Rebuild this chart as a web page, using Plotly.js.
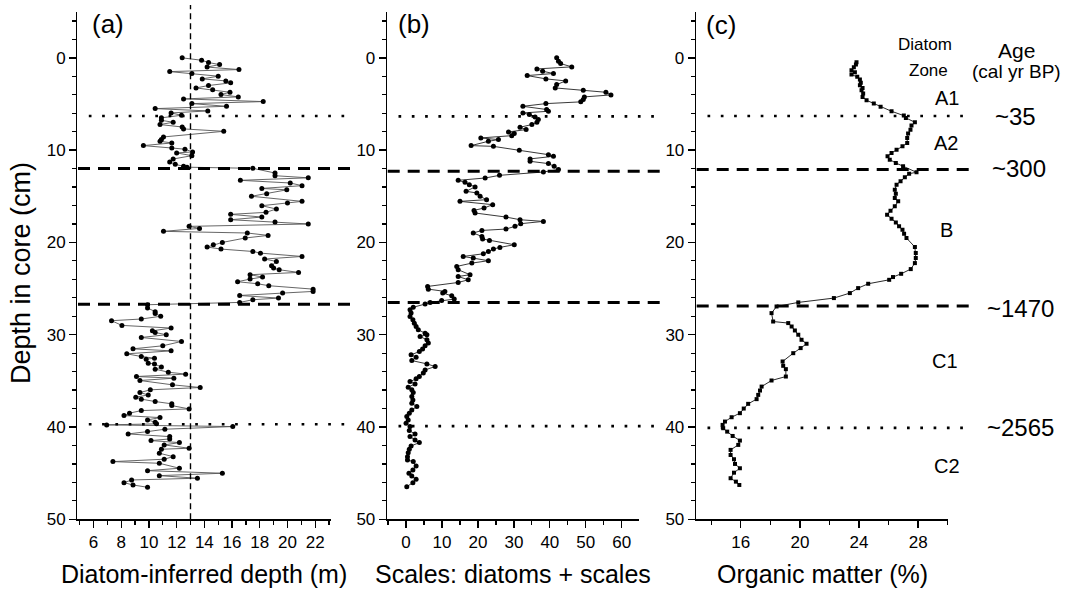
<!DOCTYPE html>
<html>
<head>
<meta charset="utf-8">
<script src="https://cdn.plot.ly/plotly-3.0.1.min.js"></script>
<style>html,body{margin:0;padding:0;background:#fff}#chart{width:1069px;height:590px}</style>
</head>
<body>
<div id="chart"></div>
<script>
// ---------------- DATA ----------------
// Panel (a): diatom-inferred depth (m) vs depth in core (cm)
const depthA = [0.0,0.26,0.51,0.73,1.0,1.27,1.49,1.70,1.99,2.28,2.50,2.71,3.0,3.26,3.47,3.73,3.98,4.23,4.45,4.74,4.96,5.25,5.5,5.75,5.97,6.22,6.5,6.77,6.98,7.23,7.49,7.70,7.96,8.57,8.86,9.04,9.22,9.51,9.77,9.9,10.2,10.3,10.6,10.96,11.28,11.54,11.75,11.85,
  11.97,12.48,12.77,13.0,13.27,13.56,13.85,14.15,14.3,14.72,15.0,15.55,15.73,16.02,16.38,16.74,16.96,17.25,17.54,17.79,18.0,18.26,18.48,18.8,18.98,19.24,19.52,20.0,20.25,20.5,20.72,20.98,21.16,21.52,21.8,22.06,22.53,22.78,22.96,23.25,23.5,23.75,23.97,24.26,24.48,24.69,25.06,25.31,25.49,25.75,26.03,26.21,26.5,
  26.75,27.1,27.5,27.7,28.0,28.3,28.48,28.99,29.28,29.58,29.76,30.0,30.3,30.73,31.2,31.53,31.75,32.07,32.36,32.54,32.65,33.08,33.16,33.51,33.73,34.06,34.27,34.53,34.71,34.96,35.43,35.72,35.97,36.27,36.52,36.77,36.98,37.24,37.49,37.68,38.04,38.22,38.5,38.76,38.98,39.23,39.48,39.66,39.77,39.95,40.24,40.5,40.75,41.04,41.29,41.47,41.69,41.94,42.3,42.41,42.84,43.21,43.49,43.75,43.93,44.47,44.73,45.01,45.27,45.55,45.74,46.03,46.28,46.53];
const valA = [12.4,13.8,14.3,15.1,14.2,16.5,11.5,13.1,15.0,13.85,15.55,15.9,14.3,13.4,14.6,15.85,15.2,16.45,12.5,18.25,13.1,15.6,10.45,14.25,11.6,12.35,10.9,10.9,11.75,10.8,12.4,12.5,15.4,11.05,10.9,10.8,11.65,9.6,11.65,12.6,13.15,12.0,13.1,11.75,11.5,11.9,12.5,12.75,
  17.5,19.1,19.1,21.5,16.6,20.2,21.05,18.15,19.95,18.5,17.4,21.05,20.0,18.15,19.2,18.45,15.9,18.15,15.9,19.1,21.5,12.9,13.65,11.05,17.1,18.6,16.95,15.3,14.65,14.2,15.2,17.5,18.05,21.05,18.35,19.2,18.85,19.0,19.4,20.8,17.3,18.2,17.3,16.4,17.85,18.65,21.85,21.85,19.65,16.55,19.35,17.5,16.55,
  9.9,9.9,10.45,10.45,10.85,9.45,7.3,8.05,11.6,10.25,10.45,11.25,9.45,12.35,11.0,8.85,11.6,8.4,9.45,10.4,9.8,9.95,10.4,10.9,10.45,11.4,12.65,9.1,11.8,9.35,11.7,13.7,10.1,9.35,9.95,9.05,9.45,10.45,11.65,11.65,12.9,9.45,8.6,8.2,10.8,9.9,10.45,10.55,6.95,16.05,11.15,9.9,8.5,11.5,11.5,10.15,12.2,11.1,12.9,10.9,10.75,11.75,11.1,7.4,10.75,12.2,9.9,15.3,10.75,13.5,8.75,8.2,8.85,9.9];

// Panel (b): scales (diatoms + scales)
const depthB = [0.0,0.36,0.62,0.98,1.2,1.45,1.7,1.92,2.28,2.5,2.9,3.26,3.51,3.73,4.02,4.23,4.52,4.77,4.96,5.25,5.6,5.79,5.97,6.15,6.4,6.69,6.98,7.23,7.52,7.77,8.03,8.21,8.43,8.68,8.86,9.04,9.51,9.59,10.02,10.49,10.67,10.95,11.21,11.46,11.75,12.1,12.37,12.73,13.02,13.27,13.49,13.74,13.99,14.46,14.64,15.01,15.37,15.55,15.91,16.27,16.53,16.81,17.25,17.54,17.72,17.97,18.26,18.55,18.7,18.98,19.35,19.63,19.78,20.25,20.54,20.72,20.98,21.23,21.52,21.69,21.98,22.24,22.6,22.96,23.5,23.69,24.05,24.34,24.77,25.06,25.31,25.49,25.78,26.14,26.29,26.5,26.68,27.02,27.3,27.66,28.03,28.38,28.75,29.11,29.47,29.83,30.0,30.2,30.55,30.9,31.2,31.56,31.82,32.18,32.43,32.8,33.16,33.45,33.81,34.16,34.53,34.78,35.08,35.33,35.68,35.97,36.27,36.7,37.06,37.42,37.79,38.15,38.5,38.87,39.23,39.59,39.95,40.39,40.75,41.04,41.4,41.69,42.05,42.41,42.78,43.21,43.57,43.75,44.22,44.65,45.01,45.3,45.66,46.03,46.46];
const valB = [41.9,42.4,43.0,46.1,36.4,38.0,41.0,33.7,38.9,44.4,41.9,41.5,49.3,55.6,57.0,49.6,49.3,48.6,38.9,32.5,39.1,39.6,32.5,34.3,35.9,36.8,36.4,35.0,31.7,33.4,28.5,30.1,29.4,20.8,25.7,22.9,18.1,24.3,31.5,39.6,41.0,34.5,34.5,39.6,41.2,42.4,38.2,26.0,22.0,14.5,16.4,17.6,19.2,16.7,19.7,20.6,22.4,15.0,24.1,21.7,18.9,19.2,27.8,31.7,38.2,31.9,30.3,27.8,21.1,18.7,21.1,21.3,23.2,30.1,26.1,24.3,22.9,21.5,15.9,18.7,22.9,18.3,14.1,14.5,17.8,14.5,17.3,14.5,6.0,6.2,10.8,10.2,12.7,13.4,9.9,6.7,5.3,2.0,1.1,1.4,1.1,1.9,2.3,2.8,3.4,5.3,5.8,3.9,5.8,6.2,5.3,4.6,3.7,1.4,2.8,1.6,5.8,8.1,5.3,4.8,3.7,2.8,1.1,2.5,0.6,1.6,2.0,1.6,1.9,1.6,3.0,1.6,0.9,0.2,0.6,0.0,1.1,0.9,2.5,1.1,2.5,3.7,1.4,0.9,0.6,0.4,0.4,2.0,2.8,1.9,0.8,1.6,2.8,1.9,0.2];

// Panel (c): organic matter (%)
const depthC = [0.47,0.73,1.02,1.34,1.56,1.81,2.06,2.35,2.71,2.97,3.26,3.51,3.87,4.23,4.6,4.96,5.31,5.79,6.26,6.51,6.98,7.34,7.78,8.21,8.68,9.22,9.59,9.95,10.3,10.67,11.03,11.39,11.75,12.4,12.55,12.95,13.38,13.74,14.28,14.72,15.18,15.55,16.09,16.56,16.99,17.43,17.83,18.26,18.62,19.06,19.52,20.5,21.15,21.69,22.24,22.89,23.4,23.75,24.05,24.48,24.95,25.49,26.03,26.5,26.94,27.66,28.57,28.74,29.11,29.54,30.0,30.55,30.98,31.45,32.0,32.9,33.37,33.73,34.53,34.96,35.62,36.05,36.52,36.98,37.49,38.0,38.5,38.94,39.41,39.77,40.13,40.5,40.97,41.47,41.94,42.48,43.03,43.49,44.0,44.47,44.95,45.55,45.92,46.28];
const valC = [23.83,23.79,23.65,23.49,23.72,23.49,23.88,24.06,24.12,24.06,24.24,24.17,24.28,24.24,24.51,25.0,25.46,26.2,27.03,27.17,27.78,27.55,27.48,27.32,27.26,27.26,26.94,26.54,26.2,25.93,26.08,26.49,26.98,27.89,27.39,27.1,26.81,26.54,26.42,26.49,26.42,26.65,26.42,26.13,25.9,26.2,26.49,26.71,26.94,27.05,27.21,27.78,27.84,27.84,27.78,27.5,26.85,26.3,26.04,24.62,23.94,23.38,22.3,19.89,18.42,18.08,18.19,19.21,19.44,19.66,19.89,20.11,20.45,20.05,19.55,18.83,18.87,19.05,19.05,18.08,17.41,17.3,17.18,17.07,16.5,16.2,15.94,15.38,14.93,14.77,14.81,15.08,15.45,15.94,15.83,15.31,15.31,15.54,15.61,15.94,15.54,15.31,15.67,15.9];

// Zone boundaries (depth, cm) as drawn in each panel: [dotted, dashed, dashed, dotted]
const boundsA = [6.3, 12.0, 26.7, 39.7];
const boundsB = [6.35, 12.3, 26.5, 39.9];
const boundsC = [6.3, 12.1, 26.9, 40.1];
const boundKinds = ['dot', 'dash', 'dash', 'dot'];
const optimumDepthA = 13;   // vertical dashed reference line in (a)

// Labels
const panelLabels = ['(a)', '(b)', '(c)'];
const xTitles = ['Diatom-inferred depth (m)', 'Scales: diatoms + scales', 'Organic matter (%)'];
const yTitle = 'Depth in core (cm)';
const zoneHeader = ['Diatom', 'Zone'];
const ageHeader = ['Age', '(cal yr BP)'];
const zoneLabels = ['A1', 'A2', 'B', 'C1', 'C2'];
const ageLabels = ['~35', '~300', '~1470', '~2565'];

// ---------------- LAYOUT ----------------
const W = 1069, H = 590;
const px = v => v / W;
const py = v => 1 - v / H;
const FONT = 'Liberation Sans, Arial, Helvetica, sans-serif';

const yDom = [py(519.3), py(11.7)];
const panelsPx = [[77.3, 330.7], [387, 639], [696, 948]];
const lineEnd = [351, 661, 971];

const baseAxis = {
  showline: true, linecolor: '#000', linewidth: 1.3,
  ticks: 'outside', ticklen: 7, tickwidth: 1.3, tickcolor: '#000',
  showgrid: false, zeroline: false,
  tickfont: {family: FONT, size: 17, color: '#000'},
  fixedrange: true
};
const yAxis = (anchor) => Object.assign({}, baseAxis, {
  domain: yDom, range: [50, -5], autorange: false, anchor: anchor,
  tick0: 0, dtick: 10,
  minor: {dtick: 2, ticklen: 4, tickwidth: 1.2, tickcolor: '#000', ticks: 'outside', showgrid: false}
});

const traceStyle = (x, y, xa, ya, sym, msize, lc) => ({
  type: 'scatter', mode: 'lines+markers', x: x, y: y, xaxis: xa, yaxis: ya,
  line: {color: lc, width: 0.9},
  marker: {color: '#000', size: msize, symbol: sym},
  hoverinfo: 'skip', showlegend: false
});

const data = [
  traceStyle(valA, depthA, 'x', 'y', 'circle', 5, '#555'),
  traceStyle(valB, depthB, 'x2', 'y2', 'circle', 5, '#222'),
  traceStyle(valC, depthC, 'x3', 'y3', 'square', 4, '#111')
];

const shapes = [];
[[boundsA, 'y', 0], [boundsB, 'y2', 1], [boundsC, 'y3', 2]].forEach(([bounds, yref, i]) => {
  bounds.forEach((d, k) => {
    const dotted = boundKinds[k] === 'dot';
    shapes.push({
      type: 'line', xref: 'paper', yref: yref,
      x0: px(panelsPx[i][0] + (dotted ? 11.5 : 0.7)), x1: px(lineEnd[i]),
      y0: d, y1: d,
      line: dotted ? {color: '#000', width: 2.7, dash: '2.7px,10.6px'}
                   : {color: '#000', width: 3, dash: '12px,8px'}
    });
  });
});
shapes.push({
  type: 'line', xref: 'x', yref: 'paper',
  x0: optimumDepthA, x1: optimumDepthA, y0: py(519.3), y1: py(5),
  line: {color: '#000', width: 1.4, dash: '6px,4px'}
});

const ann = (text, x, y, size, extra) => Object.assign({
  text: text, x: px(x), y: py(y), xref: 'paper', yref: 'paper',
  showarrow: false, xanchor: 'center', yanchor: 'middle',
  font: {family: FONT, size: size, color: '#000'}
}, extra || {});

const annotations = [
  ann(panelLabels[0], 107.5, 24, 26),
  ann(panelLabels[1], 413.5, 24, 26),
  ann(panelLabels[2], 721, 25, 26),
  ann(xTitles[0], 204, 574, 25),
  ann(xTitles[1], 513, 574, 25),
  ann(xTitles[2], 822.5, 574, 25),
  ann(yTitle, 21, 273, 27, {textangle: -90}),
  ann(zoneHeader[0], 924.5, 44, 17),
  ann(zoneHeader[1], 928.3, 70.5, 17),
  ann(ageHeader[0], 1016, 50, 21),
  ann(ageHeader[1], 1016.7, 72, 19),
  ann(zoneLabels[0], 947, 98.3, 20),
  ann(zoneLabels[1], 946.3, 143.3, 20),
  ann(zoneLabels[2], 946.3, 229.7, 20),
  ann(zoneLabels[3], 945, 360.8, 20),
  ann(zoneLabels[4], 946.7, 465.8, 20),
  ann(ageLabels[0], 1015.8, 116.2, 24),
  ann(ageLabels[1], 1019, 168.3, 24),
  ann(ageLabels[2], 1020.8, 308.3, 24),
  ann(ageLabels[3], 1020.8, 427, 24)
];

const layout = {
  width: W, height: H,
  margin: {l: 0, r: 0, t: 0, b: 0, pad: 0},
  paper_bgcolor: '#fff', plot_bgcolor: 'rgba(0,0,0,0)',
  showlegend: false,
  font: {family: FONT, color: '#000'},
  xaxis: Object.assign({}, baseAxis, {
    domain: [px(77.3), px(330.7)], range: [4.83, 23.12], anchor: 'y',
    tick0: 6, dtick: 2,
    minor: {dtick: 1, ticklen: 4, tickwidth: 1.2, tickcolor: '#000', ticks: 'outside', showgrid: false}
  }),
  xaxis2: Object.assign({}, baseAxis, {
    domain: [px(387), px(639)], range: [-5.3, 64.8], anchor: 'y2',
    tick0: 0, dtick: 10,
    minor: {dtick: 5, ticklen: 4, tickwidth: 1.2, tickcolor: '#000', ticks: 'outside', showgrid: false}
  }),
  xaxis3: Object.assign({}, baseAxis, {
    domain: [px(696), px(948)], range: [12.97, 30.02], anchor: 'y3',
    tick0: 16, dtick: 4,
    minor: {tick0: 14, dtick: 2, ticklen: 4, tickwidth: 1.2, tickcolor: '#000', ticks: 'outside', showgrid: false}
  }),
  yaxis: yAxis('x'),
  yaxis2: yAxis('x2'),
  yaxis3: yAxis('x3'),
  shapes: shapes,
  annotations: annotations
};

Plotly.newPlot('chart', data, layout, {displayModeBar: false, staticPlot: true});
</script>
</body>
</html>
